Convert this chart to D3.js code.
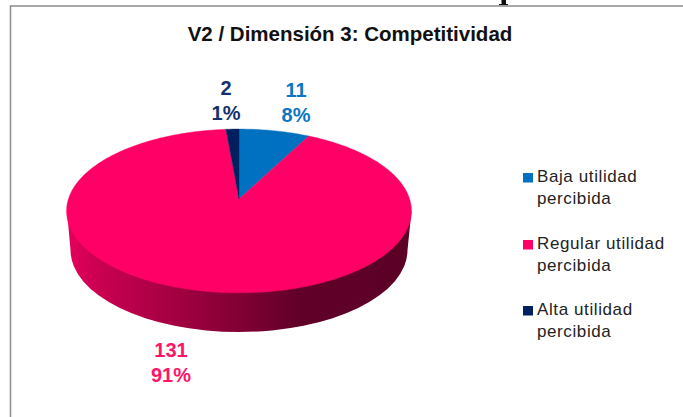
<!DOCTYPE html>
<html><head><meta charset="utf-8">
<script src="https://cdnjs.cloudflare.com/ajax/libs/d3/7.8.5/d3.min.js"></script>
<style>html,body{margin:0;padding:0;background:#fff;overflow:hidden}svg{display:block}text{font-family:"Liberation Sans",Arial,sans-serif}</style>
</head><body>
<svg id="c" width="683" height="417"></svg>
<script>
const categories=["Baja utilidad percibida","Regular utilidad percibida","Alta utilidad percibida"];
const legendLine1=["Baja utilidad","Regular utilidad","Alta utilidad"];
const legendLine2=["percibida","percibida","percibida"];
const counts=[11,131,2];
const percents=["8%","91%","1%"];
const colors=["#0070c0","#ff0066","#002060"];
const labelColors=["#0b76c4","#ff1468","#14306e"];
const titleText="V2 / Dimensión 3: Competitividad";

const svg=d3.select("#c");
// Perspective projection of the unit-circle pie onto its tilted top face
const cx=239,apexY=199,halfW=170.6,persp=-0.146,yScale=51.1;
const project=a=>{
  const x=Math.sin(a),y=-Math.cos(a),w=1+persp*y;
  return [cx+halfW*x/w,(apexY+yScale*y)/w];
};
const arcs=d3.pie().sort(null).value(d=>d)(counts);
const slicePath=d=>{
  const n=Math.max(4,Math.ceil((d.endAngle-d.startAngle)*60));
  const pts=d3.range(n+1).map(i=>project(d.startAngle+(d.endAngle-d.startAngle)*i/n));
  return d3.line()([[cx,apexY],...pts])+"Z";
};

// side wall follows the lower rim of the face and a slightly smaller base ellipse
const faceL=[67,211],faceR=[411.5,211];
const defs=svg.append("defs");
const g=defs.append("linearGradient").attr("id","wall").attr("gradientUnits","userSpaceOnUse")
  .attr("x1",faceL[0]).attr("x2",faceR[0]).attr("y1",0).attr("y2",0);
[[0,"#e4005c"],[0.1,"#c80050"],[0.39,"#96003c"],[0.68,"#600028"],[1,"#5c0026"]].forEach(s=>g.append("stop").attr("offset",s[0]).attr("stop-color",s[1]));
svg.append("path")
  .attr("d",`M${faceL[0]},${faceL[1]} L70.5,250 A168.5,82 0 0 0 407.5,250 L${faceR[0]},${faceR[1]} Z`)
  .attr("fill","url(#wall)");

// top face
svg.append("g").selectAll("path").data(arcs).join("path")
  .attr("d",slicePath).attr("fill",(d,i)=>colors[i])
  .attr("stroke",(d,i)=>colors[i]).attr("stroke-width",0.4);

// frame, and the scrap of a page glyph that pokes in above it
svg.append("rect").attr("x",501.5).attr("y",0).attr("width",4.5).attr("height",5).attr("fill","#111");
svg.append("rect").attr("x",499).attr("y",4).attr("width",9).attr("height",1.2).attr("fill","#111");
svg.append("path").attr("d",d3.line()([[10.5,417],[10.5,6],[683,6]])).attr("fill","none").attr("stroke","#8c8c8c").attr("stroke-width",1.5);

// title
svg.append("text").attr("x",350).attr("y",41).attr("text-anchor","middle").attr("font-size",20.5).attr("font-weight","bold").attr("fill","#111").text(titleText);

// data labels
const labelX=[296,171,226];
const labelY=[97,357,95];
counts.forEach((v,i)=>{
  const t=svg.append("text").attr("text-anchor","middle").attr("font-size",20).attr("font-weight","bold").attr("fill",labelColors[i]);
  t.append("tspan").attr("x",labelX[i]).attr("y",labelY[i]).text(v);
  t.append("tspan").attr("x",labelX[i]).attr("y",labelY[i]+25).text(percents[i]);
});

// legend
const legY=[182,249,315];
categories.forEach((c,i)=>{
  svg.append("rect").attr("x",523).attr("y",legY[i]-9).attr("width",10).attr("height",9.5).attr("fill",colors[i]);
  const t=svg.append("text").attr("font-size",17).attr("letter-spacing",0.6).attr("fill","#222");
  t.append("tspan").attr("x",537).attr("y",legY[i]).text(legendLine1[i]);
  t.append("tspan").attr("x",537).attr("y",legY[i]+21.5).text(legendLine2[i]);
});
</script>
</body></html>
